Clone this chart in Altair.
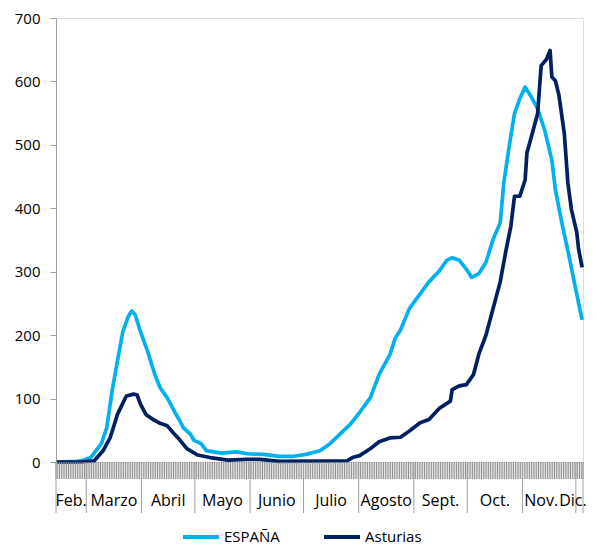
import altair as alt
import pandas as pd

# days since 13 Feb 2020 (day 0) ... 4 Dec 2020 (day 295)
espana_days = [0, 11, 14, 19, 25, 28, 31, 34, 37, 40, 42, 44, 47, 51, 55, 58, 62, 66, 69, 71,
               75, 77, 81, 84, 92, 101, 107, 116, 125, 133, 140, 148, 153, 159, 165, 170, 176,
               181, 187, 190, 193, 198, 204, 209, 215, 219, 222, 226, 230, 233, 237, 241, 245,
               249, 251, 254, 257, 260, 263, 266, 270, 274, 278, 280, 284, 288, 291, 295]
espana_vals = [0, 1, 2, 7, 29, 54, 112, 159, 205, 229, 238, 232, 205, 174, 138, 117, 101, 80, 65, 54,
               44, 34, 29, 18, 14, 16, 13, 12, 9, 9, 12, 18, 28, 44, 60, 78, 101,
               138, 169, 195, 208, 242, 265, 284, 302, 318, 322, 318, 304, 291, 297, 315, 351,
               377, 440, 497, 549, 573, 591, 578, 557, 523, 476, 429, 372, 320, 278, 224]

asturias_days = [0, 13, 21, 26, 30, 34, 39, 43, 45, 47, 50, 54, 58, 62, 66, 69, 73, 79, 86, 96,
                 107, 114, 125, 163, 166, 170, 176, 181, 187, 193, 198, 204, 209, 215, 221, 222,
                 226, 230, 234, 237, 241, 245, 249, 252, 255, 257, 260, 263, 264, 267, 270, 272,
                 275, 277, 278, 280, 282, 285, 287, 289, 292, 293, 295]
asturias_vals = [0, 0, 2, 18, 39, 75, 104, 107, 106, 91, 75, 67, 61, 57, 44, 35, 21, 11, 7, 3,
                 4, 4, 1, 2, 7, 10, 21, 32, 38, 39, 49, 62, 67, 85, 96, 114,
                 120, 122, 138, 170, 200, 242, 284, 330, 372, 419, 419, 445, 487, 518, 549, 625,
                 635, 649, 607, 601, 578, 518, 440, 398, 362, 336, 307]

series_names = ["ESPAÑA", "Asturias"]
series_colors = ["#00B0F0", "#002060"]

month_names = ["Feb.", "Marzo", "Abril", "Mayo", "Junio", "Julio", "Agosto", "Sept.", "Oct.", "Nov.", "Dic."]
month_start_days = [0, 17, 48, 78, 109, 139, 170, 201, 231, 262, 292]
n_days = 296

y_ticks = [0, 100, 200, 300, 400, 500, 600, 700]

FONT = "Open Sans"
W, H = 527, 444

df = pd.concat([
    pd.DataFrame({"day": espana_days, "value": espana_vals, "serie": "ESPAÑA", "ord": 0}),
    pd.DataFrame({"day": asturias_days, "value": asturias_vals, "serie": "Asturias", "ord": 1}),
])

ends = month_start_days[1:] + [n_days]
months = pd.DataFrame({
    "label": month_names,
    "center": [(s + e) / 2 - 0.5 for s, e in zip(month_start_days, ends)],
})
seps = pd.DataFrame({"sep": [s - 0.5 for s in month_start_days] + [n_days - 0.5]})
day_ticks = pd.DataFrame({"tick": [d - 0.5 for d in range(n_days + 1)]})

xscale = alt.Scale(domain=[-0.5, n_days - 0.5], nice=False, zero=False)

lines = alt.Chart(df).mark_line(strokeWidth=3.7, strokeJoin="round").encode(
    x=alt.X("day:Q", scale=xscale,
            axis=alt.Axis(labels=False, ticks=False, title=None,
                          domainColor="#8c8c8c", grid=False)),
    y=alt.Y("value:Q", scale=alt.Scale(domain=[0, 700], nice=False),
            axis=alt.Axis(values=y_ticks, title=None, grid=False, tickSize=6, tickColor="#a0a0a0",
                          domainColor="#a0a0a0", labelPadding=10, labelFontSize=15,
                          labelFont=FONT, labelColor="#000000")),
    color=alt.Color("serie:N", scale=alt.Scale(domain=series_names, range=series_colors),
                    legend=alt.Legend(title=None, orient="none", legendX=125, legendY=499,
                                      direction="horizontal", symbolType="stroke",
                                      symbolSize=1296, symbolStrokeWidth=4, labelFontSize=15,
                                      labelFont=FONT, labelColor="#000000", labelOffset=3,
                                      columnPadding=36, padding=0)),
    order=alt.Order("ord:Q"),
)

tick_rules = alt.Chart(day_ticks).mark_rule(color="#8c8c8c", strokeWidth=1).encode(
    x=alt.X("tick:Q", scale=xscale, axis=None),
    y=alt.value(H),
    y2=alt.value(H + 17),
)

sep_rules = alt.Chart(seps).mark_rule(color="#a0a0a0", strokeWidth=1).encode(
    x=alt.X("sep:Q", scale=xscale, axis=None),
    y=alt.value(H),
    y2=alt.value(H + 51),
)

def month_layer(names, dx):
    return alt.Chart(months).transform_filter(
        alt.FieldOneOfPredicate(field="label", oneOf=names)
    ).mark_text(font=FONT, fontSize=16, color="#000000", baseline="middle", dx=dx).encode(
        x=alt.X("center:Q", scale=xscale, axis=None),
        y=alt.value(H + 39),
        text="label:N",
    )

month_main = month_layer(month_names[:-2], 0)
month_nov = month_layer(["Nov."], -8)
month_dic = month_layer(["Dic."], -6.5)

chart = alt.layer(lines, tick_rules, sep_rules, month_main, month_nov, month_dic).properties(
    width=W, height=H,
    autosize=alt.AutoSizeParams(type="none"),
    padding={"left": 48, "top": 10, "right": 6, "bottom": 90},
).configure_view(stroke=None).configure(background="white")

chart.save("out.html", embed_options={"renderer": "svg", "actions": False})
